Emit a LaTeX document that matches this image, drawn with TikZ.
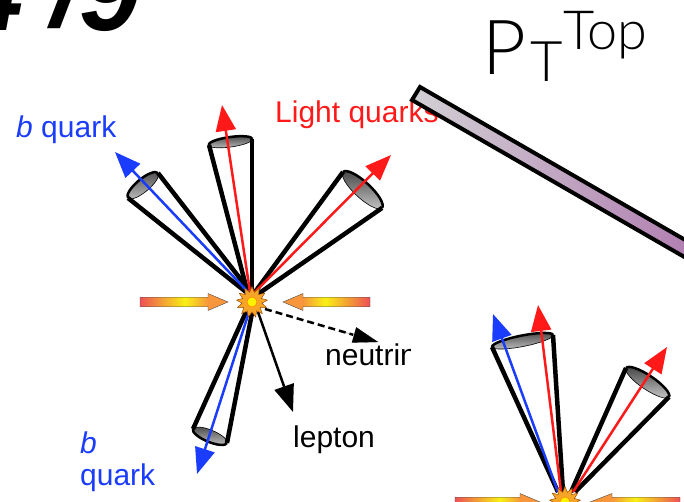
\documentclass[tikz,border=0pt]{standalone}
\usepackage{fontspec}
\setmainfont{Liberation Sans}
\newfontfamily\lightfont{Lato Light}
\usetikzlibrary{arrows.meta,shapes.geometric,calc}
\definecolor{qblue}{RGB}{25,60,255}
\definecolor{qred}{RGB}{255,25,25}
\definecolor{beamred}{RGB}{238,80,85}
\definecolor{beamyel}{RGB}{248,240,20}
\definecolor{beamorg}{RGB}{247,150,60}
\definecolor{barlo}{RGB}{210,208,212}
\definecolor{barhi}{RGB}{176,124,176}
\definecolor{flash}{RGB}{247,165,40}

\tikzset{
  conewall/.style={line width=4.5pt, line cap=butt},
  quarkarrow/.style={line width=2.5pt, -{Triangle[length=26pt,width=20pt]}},
  leparrow/.style={line width=2.5pt, -{Triangle[length=27pt,width=20pt]}},
  lbl/.style={inner sep=0pt, anchor=base west, font=\fontsize{30}{32}\selectfont},
  bigglyph/.style={inner sep=0pt, anchor=base west,
    font=\fontsize{110}{110}\selectfont\bfseries\itshape},
  ptlabel/.style={inner sep=0pt, anchor=base west},
  flashnode/.style={star, star points=13, star point ratio=1.55, minimum size=31pt,
    inner sep=0pt, fill=flash, draw=orange!60!black, line width=0.5pt},
  coreball/.style={circle, fill=yellow, draw=orange, line width=0.5pt,
    minimum size=10pt, inner sep=0pt},
  beamline/.style={draw=gray!60!black, line width=0.4pt},
}

% mouth of a jet cone: centre x, centre y, rotation, half length, half width,
% start angle of the thick far rim
\newcommand\conemouth[6]{%
  \begin{scope}[shift={(#1,#2)}, rotate=#3]
    \shade[top color=black!70, bottom color=black!25, draw=black, line width=0.6pt]
      (0,0) ellipse [x radius=#4, y radius=#5];
    \draw[line width=2.5pt] (#6:#4 and #5)
      arc [start angle=#6, delta angle=180, x radius=#4, y radius=#5];
  \end{scope}}

% incoming beam: tail x, yellow x, head base x, tip x, axis y
\newcommand\beamarrow[5]{%
  \shade[left color=beamred, right color=beamyel] (#1,#5-4.5) rectangle (#2,#5+4.5);
  \shade[left color=beamyel, right color=beamorg] (#2,#5-4.5) rectangle (#3,#5+4.5);
  \fill[beamorg] (#3,#5-8.5) -- (#4,#5) -- (#3,#5+8.5) -- cycle;
  \draw[beamline] (#1,#5-4.5) -- (#3,#5-4.5) -- (#3,#5-8.5) -- (#4,#5)
    -- (#3,#5+8.5) -- (#3,#5+4.5) -- (#1,#5+4.5) -- cycle;}
% same, pointing to the left (tail on the right)
\newcommand\beamarrowleft[5]{%
  \shade[left color=beamyel, right color=beamred] (#2,#5-4.5) rectangle (#1,#5+4.5);
  \shade[left color=beamorg, right color=beamyel] (#3,#5-4.5) rectangle (#2,#5+4.5);
  \fill[beamorg] (#3,#5-8.5) -- (#4,#5) -- (#3,#5+8.5) -- cycle;
  \draw[beamline] (#1,#5-4.5) -- (#3,#5-4.5) -- (#3,#5-8.5) -- (#4,#5)
    -- (#3,#5+8.5) -- (#3,#5+4.5) -- (#1,#5+4.5) -- cycle;}

\begin{document}
\begin{tikzpicture}[x=1pt, y=-1pt]
\useasboundingbox (0,0) rectangle (684,502);
\clip (0,0) rectangle (684,502);

% branching ratio
\node[bigglyph] (ratio4) at (-38,31) {4};
\node[bigglyph] (ratioslash) at (51,27) {/};
\node[bigglyph] (ratio9) at (79,31) {9};

% transverse momentum of the top
\node[ptlabel, font=\lightfont\fontsize{76}{76}\selectfont] (ptP) at (482,75) {P};
\node[ptlabel, font=\lightfont\fontsize{56}{56}\selectfont] (ptT) at (530,82) {T};
\node[ptlabel, font=\lightfont\fontsize{54}{54}\selectfont] (ptTop) at (563,50) {Top};

% ---------- first decay ----------
\coordinate (hit) at (252,302);

% cone mouths
\conemouth{143}{185.5}{39.8}{19.5}{6.5}{180}
\conemouth{230.5}{142}{7.9}{22.2}{5}{180}
\conemouth{362.5}{190}{-42.7}{26.5}{8}{180}
\conemouth{210}{436}{-22.4}{18.4}{6}{0}

% cone walls
\coordinate (j1a) at (128,198); \coordinate (j1b) at (158,173);
\coordinate (j2a) at (209,145); \coordinate (j2b) at (252,139);
\coordinate (j3a) at (343,172); \coordinate (j3b) at (382,208);
\coordinate (j4a) at (193,429); \coordinate (j4b) at (227,443);
\coordinate (a1a) at (246,292); \coordinate (a1b) at (249,290);
\coordinate (a2a) at (247,290); \coordinate (a2b) at (252,290);
\coordinate (a3a) at (255,292); \coordinate (a3b) at (258,294);
\coordinate (a4a) at (246,312); \coordinate (a4b) at (252,313);
\draw[conewall] (j1a) -- (a1a); \draw[conewall] (j1b) -- (a1b);
\draw[conewall] (j2a) -- (a2a); \draw[conewall] (j2b) -- (a2b);
\draw[conewall] (j3a) -- (a3a); \draw[conewall] (j3b) -- (a3b);
\draw[conewall] (j4a) -- (a4a); \draw[conewall] (j4b) -- (a4b);

% quarks, lepton and neutrino
\coordinate (s1) at (248,292); \coordinate (t1) at (115,152);
\coordinate (s2) at (250,292); \coordinate (t2) at (222,105);
\coordinate (s3) at (254,293); \coordinate (t3) at (391,155);
\coordinate (s4) at (249,312); \coordinate (t4) at (197,474);
\coordinate (sl) at (258,312); \coordinate (tl) at (293,412);
\coordinate (sn) at (265,309); \coordinate (tn) at (378,342);
\draw[quarkarrow, qblue] (s1) -- (t1);
\draw[quarkarrow, qred] (s2) -- (t2);
\draw[quarkarrow, qred] (s3) -- (t3);
\draw[quarkarrow, qblue] (s4) -- (t4);
\draw[leparrow] (sl) -- (tl);
\draw[line width=2.5pt, dash pattern=on 7pt off 4pt] (sn) -- ($(sn)!0.78!(tn)$);
\draw[-{Triangle[length=25pt,width=16pt]}, line width=0.1pt] ($(sn)!0.7!(tn)$) -- (tn);

% colliding beams and the collision flash
\beamarrow{140}{185}{208}{228}{302}
\beamarrowleft{370}{325}{303}{283}{302}
\node[flashnode] (flash1) at (hit) {};
\node[coreball] (core1) at (hit) {};

% labels
\node[lbl, qblue] (bq1) at (16,138) {\itshape b\upshape\ quark};
\node[lbl, qred] (lq) at (275,123) {Light quarks};
\node[lbl] (lep) at (293,447) {lepton};
\begin{scope}
  \clip (300,320) rectangle (410,380);
  \node[lbl] (nu) at (325,365) {neutrino};
\end{scope}
\node[lbl, qblue] (bq2) at (80,453) {\itshape b};
\node[lbl, qblue] (bq3) at (80,485) {quark};

% top momentum bar
\shade[left color=barlo, right color=barhi, draw=black, line width=4pt]
  (420,87) -- (700,248.5) -- (700,266) -- (412,100) -- cycle;

% ---------- second decay ----------
\coordinate (hit2) at (565,502);
\conemouth{522.5}{341}{11.1}{31.1}{5.5}{180}
\conemouth{647.5}{382.5}{-34}{25.9}{7}{180}
\coordinate (jAa) at (492,347); \coordinate (jAb) at (553,335);
\coordinate (jBa) at (626,368); \coordinate (jBb) at (669,397);
\coordinate (aAa) at (558,492); \coordinate (aAb) at (563,492);
\coordinate (aBa) at (571,492); \coordinate (aBb) at (575,492);
\draw[conewall] (jAa) -- (aAa); \draw[conewall] (jAb) -- (aAb);
\draw[conewall] (jBa) -- (aBa); \draw[conewall] (jBb) -- (aBb);
\coordinate (sA1) at (558,492); \coordinate (tA1) at (493,314);
\coordinate (sA2) at (561,492); \coordinate (tA2) at (538,305);
\coordinate (sB) at (573,492); \coordinate (tB) at (667,347);
\draw[quarkarrow, qblue] (sA1) -- (tA1);
\draw[quarkarrow, qred] (sA2) -- (tA2);
\draw[quarkarrow, qred] (sB) -- (tB);
\beamarrow{455}{500}{520}{540}{502}
\beamarrowleft{680}{635}{612}{590}{502}
\node[flashnode] (flash2) at (hit2) {};
\node[coreball] (core2) at (hit2) {};
\end{tikzpicture}
\end{document}
